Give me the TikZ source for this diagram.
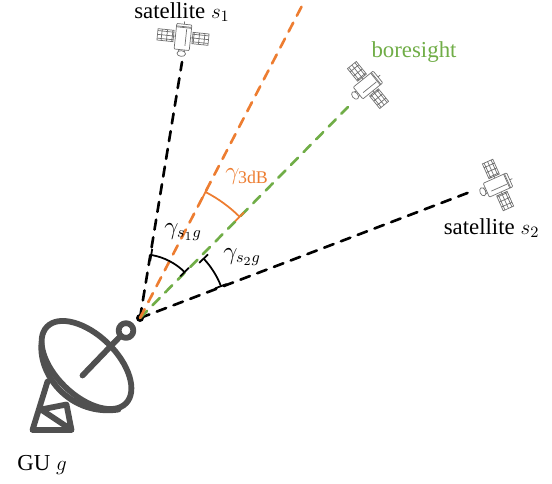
\documentclass[tikz,border=0pt]{standalone}
\usepackage{fontspec}
\setmainfont{Liberation Serif}
\usepackage{tkz-euclide}
\usetikzlibrary{arrows,calc}
\definecolor{BeamClr}{HTML}{ED7D31}
\definecolor{BoreClr}{HTML}{70AD47}
\definecolor{DishClr}{HTML}{505050}
\definecolor{SatClr}{HTML}{707070}
\tikzset{
  link/.style={line width=1.5pt,dash pattern=on 5.7pt off 4.5pt},
  anglemark/.style={line width=1pt,|-|},
  dishline/.style={line width=3.3pt,color=DishClr,line cap=round,line join=round},
  lbl/.style={inner sep=0pt,font=\fontsize{13}{15}\selectfont},
  satellite/.pic={
    \begin{scope}[line width=.4pt,color=SatClr,scale=.95]
    % panels
    \foreach \s in {-1,1}{
      \draw (\s*.16,0) -- (\s*.2,0);
      \draw[fill=white,xscale=\s] (.2,-.12) grid[xstep=.113,ystep=.08] (.54,.12);
      \draw[xscale=\s] (.2,-.12) rectangle (.54,.12);
    }
    % body
    \draw[fill=white,rounded corners=.5pt] (-.16,-.27) rectangle (.16,.27);
    \draw (-.16,.2) -- (.16,.2);
    \draw (-.16,.22) -- (.16,.22);
    \draw (.06,-.18) -- (.06,.18);
    \draw (0,.27) -- (0,.33);
    \draw[fill=white] (0,-.35) ellipse (.09 and .06);
    \draw (-.05,-.27) -- (-.07,-.31) (.05,-.27) -- (.07,-.31);
    \end{scope}
  }
}

\begin{document}
\begin{tikzpicture}
\useasboundingbox (0,0) rectangle (11.04,9.66);

\tkzDefPoints{2.80/3.30/g,3.64/8.42/s,6.10/9.66/t,6.96/7.52/b,9.40/5.82/r}

\fill[black] (g) circle (.08);

\begin{scope}
\clip (0,0) rectangle (11.04,9.66);
\tkzDrawSegment[link,color=black](g,s)
\tkzDrawSegment[link,color=black](g,r)
\tkzDrawSegment[link,color=BoreClr](g,b)
\tkzDrawSegment[link,color=BeamClr](g,t)
\end{scope}

% angles
\draw[anglemark,color=black] ([shift={(80.7:1.28)}]g) arc[start angle=80.7,end angle=45.1,radius=1.28];
\draw[anglemark,color=black] ([shift={(43.6:1.74)}]g) arc[start angle=43.6,end angle=20.9,radius=1.74];
\draw[anglemark,color=BeamClr] ([shift={(62.9:2.84)}]g) arc[start angle=62.9,end angle=45.1,radius=2.84];

% satellites
\pic[rotate=-6] at (3.66,8.92) {satellite};
\pic[rotate=-51] at (7.36,7.96) {satellite};
\pic[rotate=-66] at (9.96,5.96) {satellite};

% dish
\draw[dishline,rotate around={-44:(1.73,2.36)}] (1.73,2.36) ellipse (1.1 and .61);
\draw[dishline] (.83,2.79) .. controls (.77,2.13) and (1.43,1.33) .. (2.37,1.47);
\draw[dishline] (1.65,2.15) -- (2.43,2.96);
\draw[dishline,fill=white] (2.52,3.05) circle (.147);
\draw[dishline] (.95,2.03) -- (.65,1.06) -- (1.43,1.06) -- (1.33,1.57) -- (.82,1.47) -- (1.33,1.13);

% labels
\node[lbl] (lblsa) at (3.64,9.42) {satellite $s_1$};
\node[lbl,text=BoreClr] (lblbo) at (8.28,8.62) {boresight};
\node[lbl] (lblsb) at (9.83,5.10) {satellite $s_2$};
\node[lbl] (lblgu) at (.84,.36) {GU $g$};
\node[lbl,text=BeamClr,font=\fontsize{14.5}{16}\selectfont] (lblbeam) at (4.94,6.12) {$\gamma_{\mathrm{3dB}}$};
\node[lbl,font=\fontsize{13.5}{15}\selectfont] (lblga) at (3.66,5.02) {$\gamma_{s_1g}$};
\node[lbl,font=\fontsize{13.5}{15}\selectfont] (lblgb) at (4.84,4.52) {$\gamma_{s_2g}$};
\end{tikzpicture}
\end{document}
